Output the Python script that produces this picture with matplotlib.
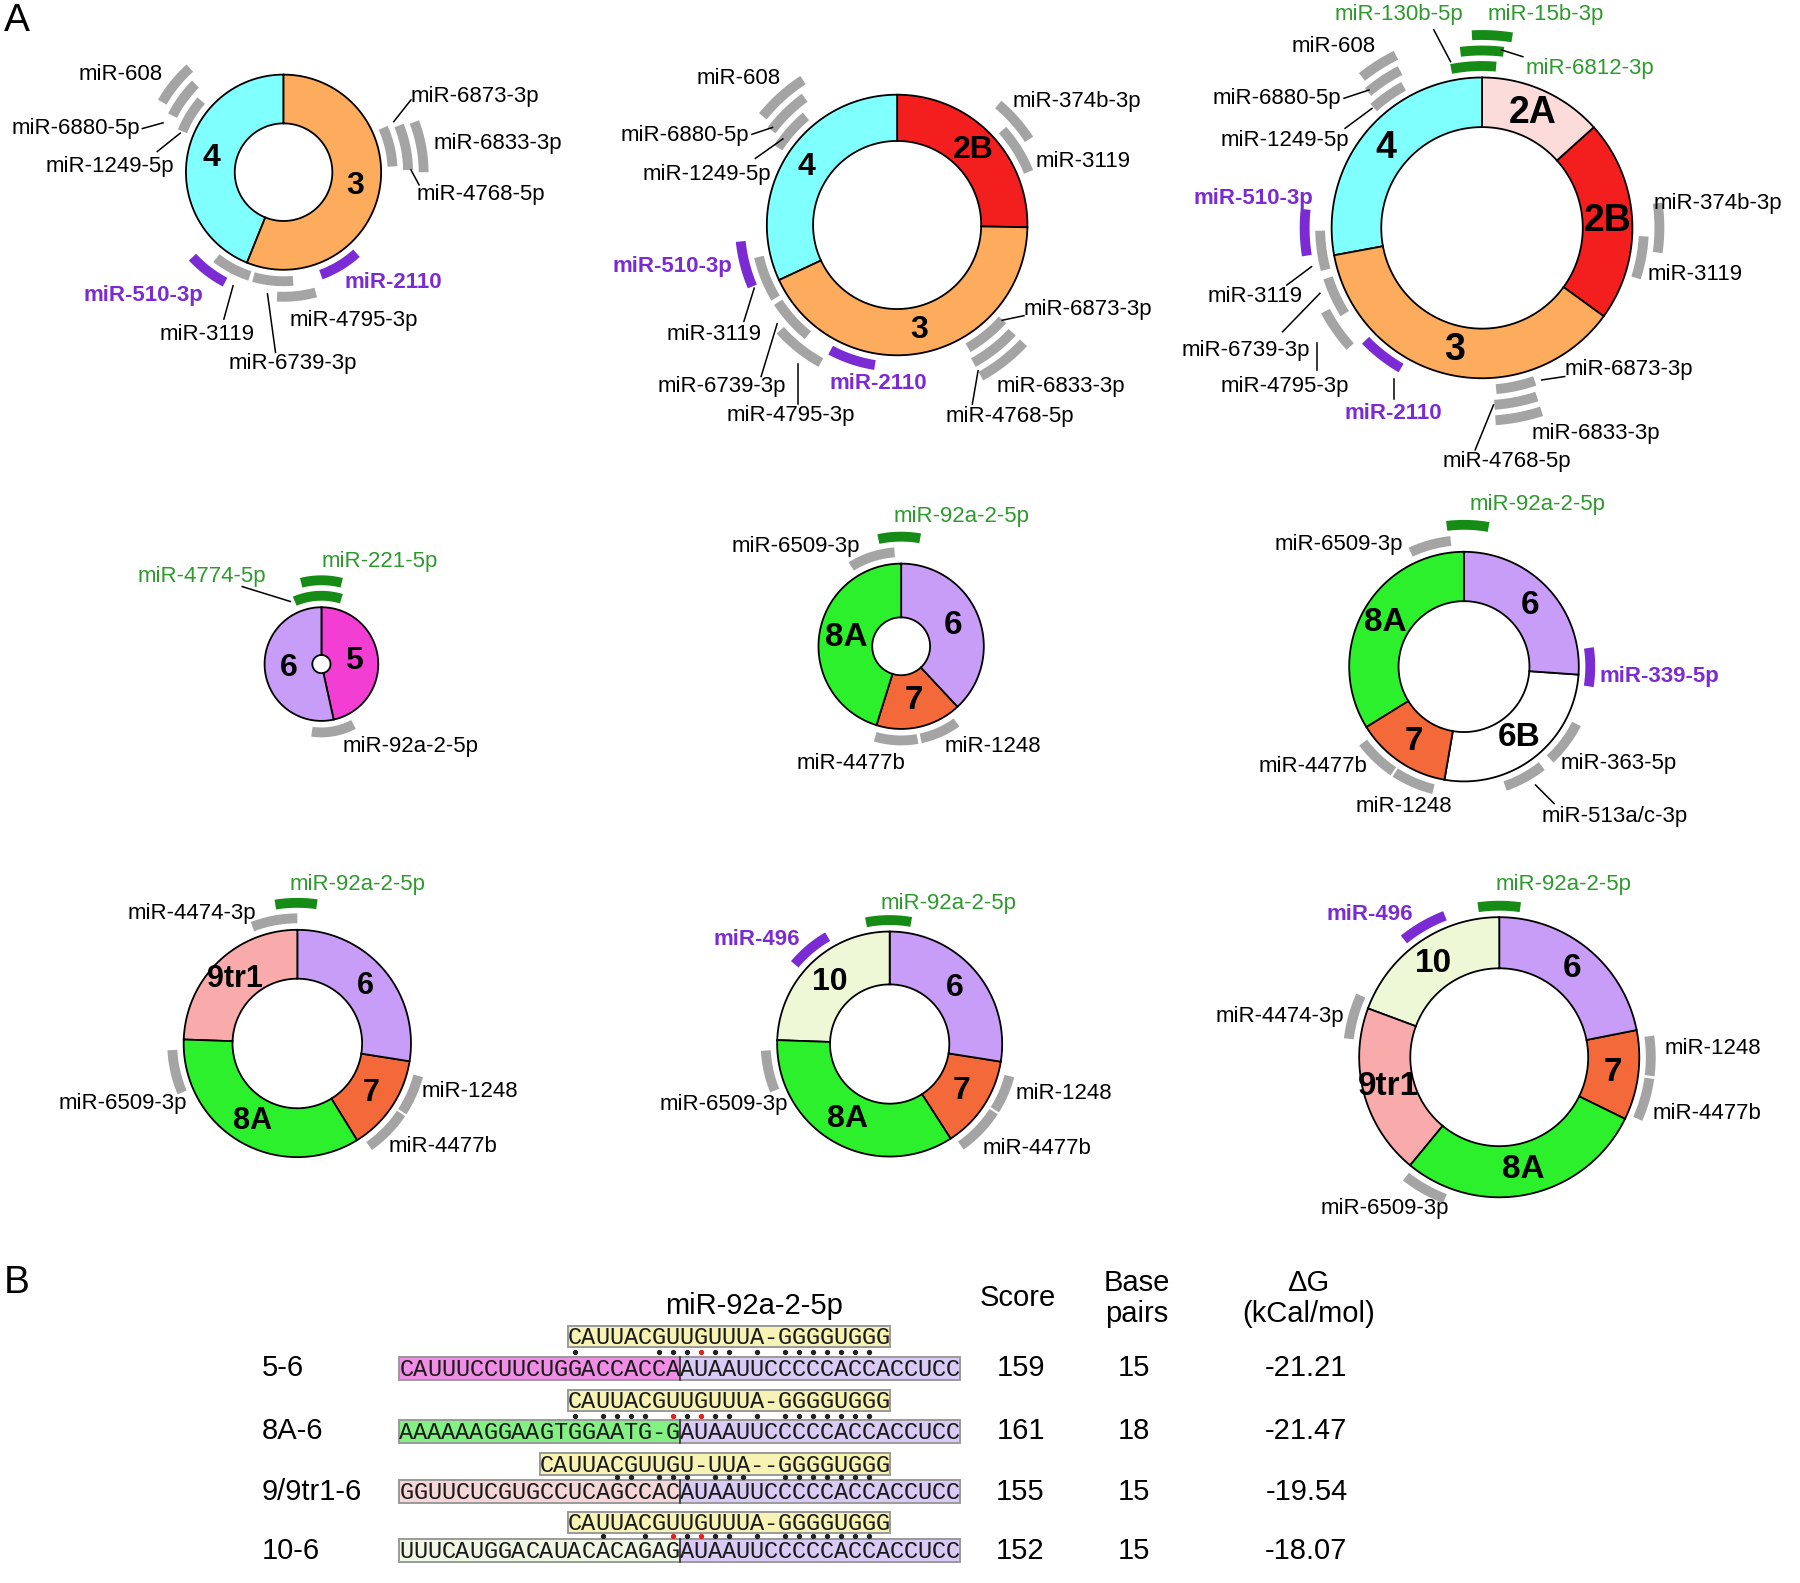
#!/usr/bin/env python3
"""Exon-ring diagrams with miRNA binding sites (A) and miR-92a-2-5p duplexes (B)."""
import numpy as np
import matplotlib
matplotlib.use("Agg")
import matplotlib.pyplot as plt
from matplotlib.patches import Polygon, Rectangle

plt.rcParams["font.family"] = ["Liberation Sans", "DejaVu Sans"]

W, H = 1568, 1379  # drawing units

SEG_COLOR = {"4": "#80ffff", "3": "#fdab5c", "2A": "#fbdcda", "2B": "#f31f1f",
             "5": "#f23ed2", "6": "#c89df8", "6B": "#ffffff", "7": "#f4693a",
             "8A": "#2cf02c", "9tr1": "#f9abab", "10": "#eef8d6"}
ARC_COLOR = {"n": "#a4a4a4", "p": "#7b2bd4", "g": "#168c16"}
TXT_COLOR = {"n": "black", "p": "#7b2bd4", "g": "#2c9a2c"}

# ---------------- data: ring segments (boundary angles, deg ccw from 3 o'clock)
D1_SEGS, D1_BOUNDS = ["4", "3"], [90, 248, 450]
D2_SEGS, D2_BOUNDS = ["2B", "4", "3"], [-1, 90, 205, 359]
D3_SEGS, D3_BOUNDS = ["2B", "2A", "4", "3"], [-36, 42, 90, 190.5, 324]
D4_SEGS, D4_BOUNDS = ["5", "6"], [-77.6, 90, 282.4]
D5_SEGS, D5_BOUNDS = ["7", "6", "8A"], [-107.4, -47, 90, 252.6]
D6_SEGS, D6_BOUNDS = ["6B", "6", "8A", "7"], [-99.8, -4, 90, 211.8, 260.2]
D7_SEGS, D7_BOUNDS = ["7", "6", "9tr1", "8A"], [-58.3, -9, 90, 178, 301.7]
D8_SEGS, D8_BOUNDS = ["7", "6", "10", "8A"], [-57.2, -9, 90, 178, 302.8]
D9_SEGS, D9_BOUNDS = ["7", "6", "10", "9tr1", "8A"], [-26.1, 11.2, 90, 159.6, 230.5, 333.9]

# ---------------- data: miRNA sites (name, angular span, stacking level, kind)
D1_MIRS = ["miR-608", "miR-6880-5p", "miR-1249-5p", "miR-6873-3p", "miR-4768-5p",
           "miR-6833-3p", "miR-510-3p", "miR-3119", "miR-6739-3p", "miR-4795-3p", "miR-2110"]
D1_SPAN = [(132, 150), (135, 153), (139, 158), (3, 24), (1, 22), (0, 21),
           (223, 242), (232, 252), (254, 275), (267, 285), (290, 312)]
D1_LEVEL = [3, 2, 1, 1, 2, 3, 2, 1, 1, 2, 1]
D1_KIND = "nnnnnnpnnnp"

D2_MIRS = ["miR-608", "miR-6880-5p", "miR-1249-5p", "miR-374b-3p", "miR-3119", "miR-510-3p",
           "miR-3119", "miR-6739-3p", "miR-4795-3p", "miR-2110", "miR-6873-3p",
           "miR-4768-5p", "miR-6833-3p"]
D2_SPAN = [(123, 141), (126, 143), (130, 147), (33, 50), (22, 42), (186, 203), (193, 211),
           (213, 231), (222, 241), (242, 261), (300, 318), (299, 317), (299, 317)]
D2_LEVEL = [3, 2, 1, 2, 1, 2, 1, 1, 2, 1, 1, 2, 3]
D2_KIND = "nnnnnpnnnpnnn"

D3_MIRS = ["miR-130b-5p", "miR-6812-3p", "miR-15b-3p", "miR-608", "miR-6880-5p",
           "miR-1249-5p", "miR-374b-3p", "miR-3119", "miR-510-3p", "miR-3119",
           "miR-6739-3p", "miR-4795-3p", "miR-2110", "miR-6873-3p", "miR-4768-5p", "miR-6833-3p"]
D3_SPAN = [(85, 101), (83, 97), (81, 93), (116.5, 128.5), (117.5, 130), (119, 132),
           (-8, 8), (-18, -3), (174, 189), (181, 195), (198, 212), (208, 222),
           (224, 240), (275, 289), (274, 288), (274, 288)]
D3_LEVEL = [1, 2, 3, 3, 2, 1, 2, 1, 2, 1, 1, 2, 1, 1, 2, 3]
D3_KIND = "gggnnnnnpnnnpnnn"

D4_MIRS = ["miR-4774-5p", "miR-221-5p", "miR-92a-2-5p"]
D4_SPAN = [(73, 113), (76, 104), (262, 298)]
D4_LEVEL = [1, 2, 1]
D4_KIND = "ggn"

D5_MIRS = ["miR-92a-2-5p", "miR-6509-3p", "miR-4477b", "miR-1248"]
D5_SPAN = [(80, 102), (94, 122), (254, 280), (282, 306)]
D5_LEVEL = [2, 1, 1, 1]
D5_KIND = "gnnn"

D6_MIRS = ["miR-92a-2-5p", "miR-6509-3p", "miR-339-5p", "miR-363-5p", "miR-513a/c-3p",
           "miR-4477b", "miR-1248"]
D6_SPAN = [(80, 97), (96, 115), (-9, 8.5), (-47, -27), (-71, -52), (217, 236), (237, 256)]
D6_LEVEL = [2, 1, 1, 1, 1, 1, 1]
D6_KIND = "gnpnnnn"

D7_MIRS = ["miR-92a-2-5p", "miR-4474-3p", "miR-6509-3p", "miR-1248", "miR-4477b"]
D7_SPAN = [(82, 99), (90, 111), (183, 203), (-33, -15), (-55, -34)]
D7_LEVEL = [2, 1, 1, 1, 1]
D7_KIND = "gnnnn"

D8_MIRS = ["miR-92a-2-5p", "miR-496", "miR-6509-3p", "miR-1248", "miR-4477b"]
D8_SPAN = [(80, 101), (120, 140), (183, 202), (-32, -15), (-55, -33)]
D8_LEVEL = [1, 1, 1, 1, 1]
D8_KIND = "gpnnn"

D9_MIRS = ["miR-92a-2-5p", "miR-496", "miR-4474-3p", "miR-6509-3p", "miR-1248", "miR-4477b"]
D9_SPAN = [(82, 98), (111, 129), (156, 173), (232, 249), (-7, 8), (-24, -8)]
D9_LEVEL = [1, 1, 1, 1, 1, 1]
D9_KIND = "gpnnnn"

# ---------------- data: panel B
B_ROWS = ["5-6", "8A-6", "9/9tr1-6", "10-6"]
B_UP = ["CAUUUCCUUCUGGACCACCA", "AAAAAAGGAAGTGGAATG-G",
        "GGUUCUCGUGCCUCAGCCAC", "UUUCAUGGACAUACACAGAG"]
B_DOWN = "AUAAUUCCCCCACCACCUCC"
B_MIRNA = ["CAUUACGUUGUUUA-GGGGUGGG", "CAUUACGUUGUUUA-GGGGUGGG",
           "CAUUACGUUGU-UUA--GGGGUGGG", "CAUUACGUUGUUUA-GGGGUGGG"]
B_OFFSET = [12, 12, 10, 12]
B_SCORE = [159, 161, 155, 152]
B_BP = [15, 18, 15, 15]
B_DG = [-21.21, -21.47, -19.54, -18.07]
B_UPCOL = ["#f08de4", "#82f082", "#f6d7d7", "#f1f7e5"]

# ---------------- layout: ring geometry (cx, cy, R, inner ratio, label size)
GEOM = [(247, 150, 85, 0.50, 23), (781.5, 196, 113.5, 0.645, 23), (1291, 198.5, 131, 0.67, 27),
        (280, 578.5, 49.5, 0.16, 23), (785, 563, 72, 0.35, 24), (1275.3, 580.7, 100, 0.57, 24),
        (259, 909, 99, 0.57, 22), (775, 909.5, 98, 0.53, 23), (1306, 921, 122, 0.635, 24)]

# label anchors (x, y, ha) per site, and leader lines keyed by site index
D1_LAB = [(142, 65, "right"), (122, 112, "right"), (152, 145, "right"), (358, 84, "left"),
          (363, 169, "left"), (378, 125, "left"), (177, 257, "right"), (222, 291, "right"),
          (255.5, 317, "center"), (252, 279, "left"), (300, 246, "left")]
D1_LEAD = {1: (124, 112, 142, 107), 2: (137, 132, 157, 116), 3: (358, 87, 343, 106),
           4: (358, 148, 365, 161), 7: (203, 249, 195, 278), 8: (233, 256, 240, 307)}
D2_LAB = [(680, 68, "right"), (653, 118, "right"), (672, 152, "right"), (882, 88, "left"),
          (902, 141, "left"), (638, 232, "right"), (663, 291, "right"), (685, 337, "right"),
          (688.5, 362, "center"), (723, 334, "left"), (892, 270, "left"),
          (879.5, 363, "center"), (868, 337, "left")]
D2_LEAD = {1: (655, 117, 673, 111), 2: (658, 138, 682, 121), 6: (657, 251, 648, 280),
           7: (677, 282, 663, 328), 8: (695, 317, 695, 352), 10: (873, 279, 892, 275),
           11: (852, 323, 847, 352)}
D3_LAB = [(1219, 13, "center"), (1328.5, 59.5, "left"), (1296, 13, "left"),
          (1198.6, 40.6, "right"), (1168, 85.6, "right"), (1175, 122, "right"),
          (1440.5, 177, "left"), (1435, 239.5, "left"), (1144.4, 172.8, "right"),
          (1135, 258.4, "right"), (1140.8, 304.9, "right"), (1175, 336.8, "right"),
          (1214, 360, "center"), (1363, 322.3, "left"), (1313, 402, "center"),
          (1334, 377.5, "left")]
D3_LEAD = {0: (1249, 26, 1263.6, 53.7), 1: (1308, 43.5, 1326.6, 49.4),
           4: (1170.8, 85.6, 1192.5, 78.4), 5: (1171.7, 111.8, 1195.2, 94.4),
           9: (1121, 248.3, 1142.5, 232.3), 10: (1117.3, 289, 1149.8, 255.5),
           11: (1147.2, 299, 1147.2, 322), 12: (1214, 330, 1214, 348),
           13: (1343, 331, 1363, 328), 14: (1301, 352.8, 1285, 392)}
D4_LAB = [(232, 502.3, "right"), (279.7, 489.2, "left"), (298.2, 650.4, "left")]
D4_LEAD = {0: (211, 511, 253, 524)}
D5_LAB = [(778.4, 450, "left"), (749.4, 476.2, "right"), (741.5, 665, "center"),
          (823.2, 650.4, "left")]
D6_LAB = [(1279.8, 439.9, "left"), (1222, 474.7, "right"), (1393.5, 589.4, "left"),
          (1359.2, 664.9, "left"), (1343, 711.4, "left"), (1191.3, 667.8, "right"),
          (1222.9, 702.6, "center")]
D6_LEAD = {4: (1353.8, 700, 1337.6, 683.8)}
D7_LAB = [(252.4, 770.9, "left"), (223.6, 795.6, "right"), (163, 961.1, "right"),
          (367.4, 950.9, "left"), (338.7, 998.8, "left")]
D8_LAB = [(766.8, 786.8, "left"), (696.5, 818.8, "right"), (686.9, 962.5, "right"),
          (885, 952.4, "left"), (856.2, 1000.3, "left")]
D9_LAB = [(1302.9, 770.9, "left"), (1231.2, 797, "right"), (1171.2, 885.6, "right"),
          (1206.3, 1052.5, "center"), (1449.6, 913.2, "left"), (1439.6, 969.8, "left")]

DONUTS = [
    (D1_SEGS, D1_BOUNDS, D1_MIRS, D1_SPAN, D1_LEVEL, D1_KIND, D1_LAB, D1_LEAD),
    (D2_SEGS, D2_BOUNDS, D2_MIRS, D2_SPAN, D2_LEVEL, D2_KIND, D2_LAB, D2_LEAD),
    (D3_SEGS, D3_BOUNDS, D3_MIRS, D3_SPAN, D3_LEVEL, D3_KIND, D3_LAB, D3_LEAD),
    (D4_SEGS, D4_BOUNDS, D4_MIRS, D4_SPAN, D4_LEVEL, D4_KIND, D4_LAB, D4_LEAD),
    (D5_SEGS, D5_BOUNDS, D5_MIRS, D5_SPAN, D5_LEVEL, D5_KIND, D5_LAB, {}),
    (D6_SEGS, D6_BOUNDS, D6_MIRS, D6_SPAN, D6_LEVEL, D6_KIND, D6_LAB, D6_LEAD),
    (D7_SEGS, D7_BOUNDS, D7_MIRS, D7_SPAN, D7_LEVEL, D7_KIND, D7_LAB, {}),
    (D8_SEGS, D8_BOUNDS, D8_MIRS, D8_SPAN, D8_LEVEL, D8_KIND, D8_LAB, {}),
    (D9_SEGS, D9_BOUNDS, D9_MIRS, D9_SPAN, D9_LEVEL, D9_KIND, D9_LAB, {}),
]


def sector(cx, cy, r0, r1, a0, a1):
    t = np.radians(np.linspace(a0, a1, max(8, int(abs(a1 - a0) * 2))))
    x = np.r_[cx + r1 * np.cos(t), cx + r0 * np.cos(t[::-1])]
    y = np.r_[cy - r1 * np.sin(t), cy - r0 * np.sin(t[::-1])]
    return np.column_stack([x, y])


fig = plt.figure(figsize=(18, 15.83), dpi=100)
ax = fig.add_axes([0, 0, 1, 1])
ax.set_xlim(0, W); ax.set_ylim(H, 0)
ax.axis("off")

ax.text(3, 18, "A", fontsize=28, ha="left", va="center")
ax.text(3, 1118, "B", fontsize=28, ha="left", va="center")

for (cx, cy, R, ratio, fs), (segs, bounds, mirs, spans, levels, kinds, labs, leads) in zip(GEOM, DONUTS):
    r_in = R * ratio
    for i, s in enumerate(segs):
        a0, a1 = bounds[i], bounds[i + 1]
        ax.add_patch(Polygon(sector(cx, cy, r_in, R, a0, a1), closed=True,
                             fc=SEG_COLOR[s], ec="black", lw=1.3, zorder=2))
        am = np.radians((a0 + a1) / 2); rm = (R + r_in) / 2
        ax.text(cx + rm * np.cos(am), cy - rm * np.sin(am), s, fontsize=fs,
                weight="bold", ha="center", va="center", zorder=4)
    for j, m in enumerate(mirs):
        rc = R + 10 + 13.5 * (levels[j] - 1)
        ax.add_patch(Polygon(sector(cx, cy, rc - 4.3, rc + 4.3, *spans[j]), closed=True,
                             fc=ARC_COLOR[kinds[j]], ec="none", zorder=3))
        x, y, ha = labs[j]
        ax.text(x, y, m, fontsize=16, ha=ha, va="center", color=TXT_COLOR[kinds[j]],
                weight="bold" if kinds[j] == "p" else "normal", zorder=4)
    for j, (x0, y0, x1, y1) in leads.items():
        ax.plot([x0, x1], [y0, y1], color="black", lw=1.1, zorder=3)

# ---------------- panel B
PITCH = 12.2
X_LEFT = 348
LOW_Y = [1191.9, 1247.0, 1299.3, 1350.9]
UP_Y = [1164.3, 1220.2, 1275.4, 1326.2]
PAIR = {frozenset("AU"), frozenset("GC"), frozenset("AT")}
WOBBLE = {frozenset("GU"), frozenset("GT")}
MONO = ["Liberation Mono", "DejaVu Sans Mono"]

ax.text(657, 1138, "miR-92a-2-5p", fontsize=21, ha="center", va="center")
ax.text(887, 1131, "Score", fontsize=21, ha="center", va="center")
ax.text(990, 1131, "Base\npairs", fontsize=21, ha="center", va="center", linespacing=1.15)
ax.text(1140, 1131, "\u0394G\n(kCal/mol)", fontsize=21, ha="center", va="center", linespacing=1.15)

for i, row in enumerate(B_ROWS):
    target = B_UP[i] + B_DOWN
    mir = B_MIRNA[i]
    ly, uy = LOW_Y[i], UP_Y[i]
    half = len(B_UP[i]) * PITCH
    ax.add_patch(Rectangle((X_LEFT, ly - 10.2), half, 20.4, fc=B_UPCOL[i], ec="#9a9a9a", lw=1.4, zorder=2))
    ax.add_patch(Rectangle((X_LEFT + half, ly - 10.2), len(B_DOWN) * PITCH, 20.4,
                           fc="#dacbf6", ec="#9a9a9a", lw=1.4, zorder=2))
    ax.plot([X_LEFT + half] * 2, [ly - 10.2, ly + 10.2], color="#333333", lw=1.2, zorder=3)
    ux = X_LEFT + B_OFFSET[i] * PITCH
    ax.add_patch(Rectangle((ux, uy - 9.4), len(mir) * PITCH, 18.8, fc="#f7f3b4",
                           ec="#9a9a9a", lw=1.4, zorder=2))
    for k, ch in enumerate(target):
        ax.text(X_LEFT + (k + 0.5) * PITCH, ly + 1, ch, family=MONO,
                fontsize=17, ha="center", va="center", color="#1a1a1a", zorder=4)
    dot_y = (uy + 9.4 + ly - 10.2) / 2
    for k, ch in enumerate(mir):
        xk = ux + (k + 0.5) * PITCH
        ax.text(xk, uy + 1, ch, family=MONO,
                fontsize=17, ha="center", va="center", color="#1a1a1a", zorder=4)
        pr = frozenset(ch + target[B_OFFSET[i] + k])
        if pr in PAIR:
            ax.plot(xk, dot_y, "o", ms=2.8, color="#222222", zorder=4)
        elif pr in WOBBLE:
            ax.plot(xk, dot_y, "o", ms=2.8, color="#e02020", zorder=4)
    ax.text(228, ly, row, fontsize=21, ha="left", va="center")
    ax.text(889, ly, str(B_SCORE[i]), fontsize=21, ha="center", va="center")
    ax.text(988, ly, str(B_BP[i]), fontsize=21, ha="center", va="center")
    ax.text(1138, ly, f"{B_DG[i]:.2f}", fontsize=21, ha="center", va="center")

fig.savefig("out.png", dpi=100)
print("wrote out.png")
